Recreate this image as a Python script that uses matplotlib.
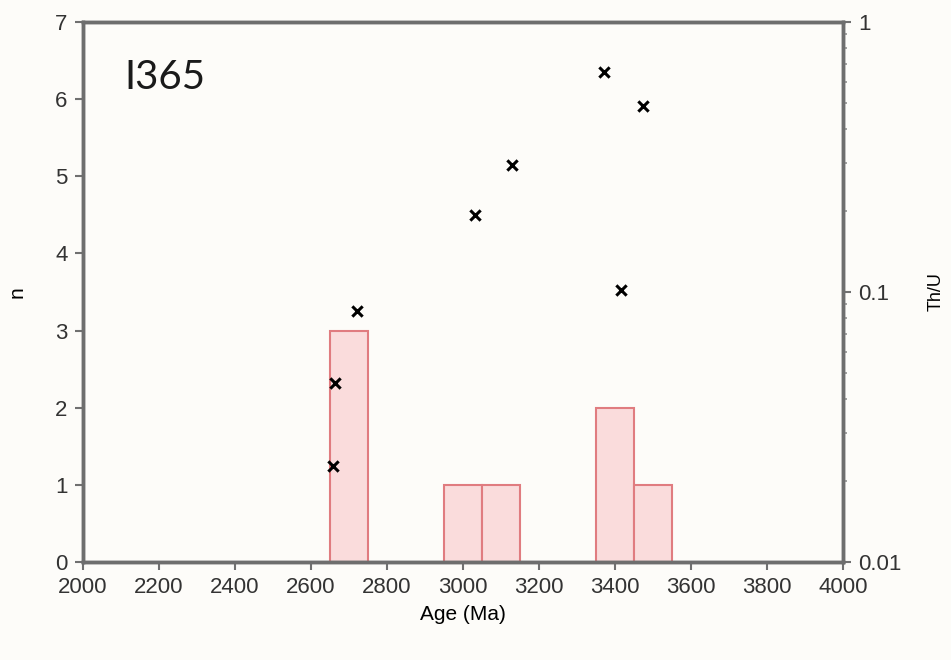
import matplotlib
matplotlib.use("Agg")
import matplotlib.pyplot as plt
from matplotlib.ticker import LogLocator, FixedLocator, FixedFormatter, NullFormatter

# histogram bins (Ma) and counts
bin_left = [2650, 2950, 3050, 3350, 3450]
bin_width = [100, 100, 100, 100, 100]
counts = [3, 1, 1, 2, 1]

# Th/U of individual analyses
ages = [2658, 2663, 2721, 3032, 3129, 3371, 3474, 3416]
th_u = [0.0227, 0.046, 0.0851, 0.193, 0.295, 0.653, 0.488, 0.102]

plt.rcParams["font.family"] = ["Liberation Sans", "DejaVu Sans"]

fig = plt.figure(figsize=(9.51, 6.6), dpi=100)
fig.patch.set_facecolor("#fdfcf9")
ax = fig.add_axes([0.0873, 0.1485, 0.7991, 0.8182])
ax.set_facecolor("#fdfcf9")

ax.bar(bin_left, counts, width=bin_width, align="edge",
       color="#fadcdc", edgecolor="#e07c80", linewidth=1.5, zorder=2)

ax.set_xlim(2000, 4000)
ax.set_ylim(0, 7)
ax.set_xticks(range(2000, 4001, 200))
ax.set_yticks(range(0, 8))
ax.set_xlabel("Age (Ma)", fontsize=15)
ax.xaxis.set_label_coords(0.5, -0.08)
ax.xaxis.label.set_va("top")
ax.set_ylabel("n", fontsize=15)
ax.yaxis.set_label_coords(-0.074, 0.5)
ax.tick_params(direction="out", length=6, width=1.5, color="#707070",
               labelsize=16, labelcolor="#333333", pad=5)

for sp in ax.spines.values():
    sp.set_color("#6e6e6e")
    sp.set_linewidth(2.5)

ax.text(0.055, 0.876, "I365", transform=ax.transAxes, fontsize=29,
        family=["Lato", "DejaVu Sans"], va="baseline", ha="left", color="#1a1a1a")

ax2 = ax.twinx()
ax2.set_yscale("log")
ax2.set_ylim(0.01, 1)
ax2.scatter(ages, th_u, marker="x", s=55, color="black", linewidths=2.2, zorder=3)
ax2.yaxis.set_major_locator(FixedLocator([0.01, 0.1, 1]))
ax2.yaxis.set_major_formatter(FixedFormatter(["0.01", "0.1", "1"]))
ax2.yaxis.set_minor_locator(LogLocator(base=10, subs=range(2, 10)))
ax2.yaxis.set_minor_formatter(NullFormatter())
ax2.tick_params(which="major", direction="out", length=6, width=1.5, color="#707070",
                labelsize=16, labelcolor="#333333", pad=5)
ax2.tick_params(which="minor", direction="out", length=3, width=1.2, color="#909090")
ax2.set_ylabel("Th/U", fontsize=13)
ax2.yaxis.set_label_coords(1.111, 0.5)
for sp in ax2.spines.values():
    sp.set_color("#6e6e6e")
    sp.set_linewidth(2.5)

fig.savefig("out.png", dpi=100, facecolor=fig.get_facecolor())
